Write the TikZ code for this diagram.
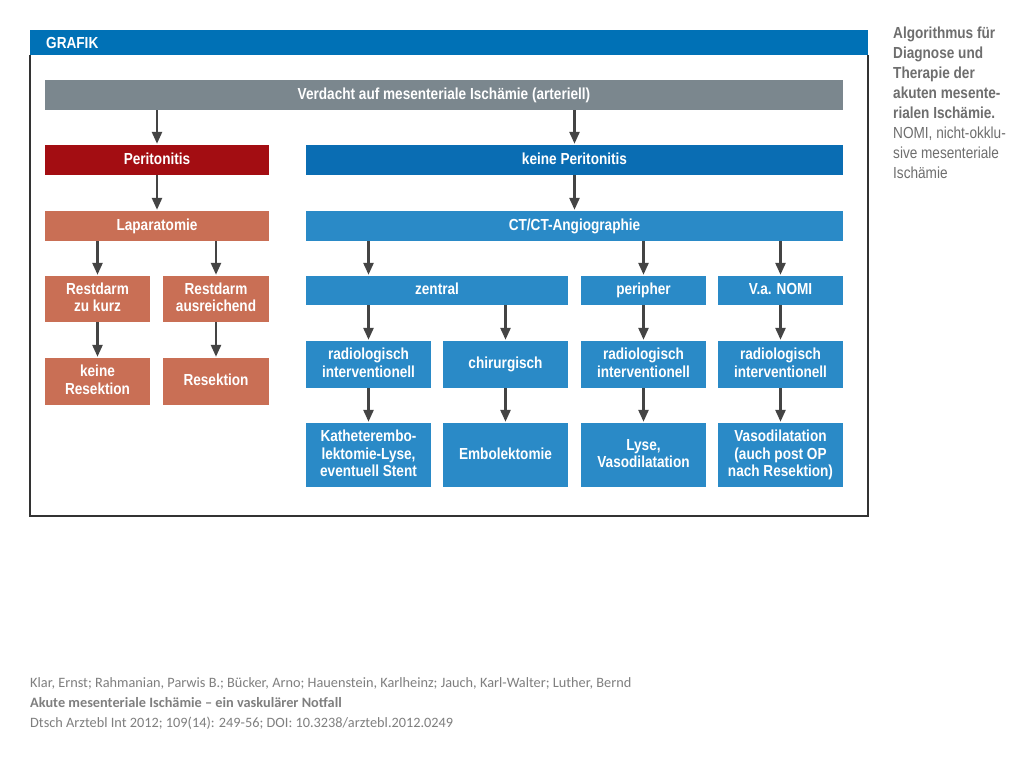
\documentclass[tikz,border=0pt]{standalone}
\usepackage{fontspec}
\setmainfont{Liberation Sans}
\newfontfamily\cond[FakeStretch=0.85]{Liberation Sans}
\newfontfamily\calib{Carlito}
\usetikzlibrary{arrows.meta,positioning}
\definecolor{hdrblue}{HTML}{0071B6}
\definecolor{kpblue}{HTML}{0A6DB3}
\definecolor{ltblue}{HTML}{2A8AC7}
\definecolor{pred}{HTML}{A30D12}
\definecolor{salmon}{HTML}{C96F55}
\definecolor{barg}{HTML}{7B878E}
\definecolor{arrg}{HTML}{444444}
\definecolor{capg}{HTML}{6E6E6E}
\definecolor{citeg}{HTML}{7F7F7F}
\tikzset{
  box/.style={rectangle, inner sep=0pt, text=white, align=center,
    font=\cond\bfseries\fontsize{16}{17.5}\selectfont},
  arr/.style={draw=arrg, line width=2.5pt, -{Triangle[width=10pt,length=12pt]}, fill=arrg, shorten >=1pt},
}
\newcommand{\bx}[7]{% name, x1, y1, x2, y2, color, text
  \node[box, fill=#6, minimum width={#4-#2}, minimum height={#5-#3}] (#1) at ({(#2+#4)/2},{(#3+#5)/2}) {\vphantom{Ap}#7\vphantom{Ap}};}
\begin{document}
\begin{tikzpicture}[x=1pt,y=-1pt]
\useasboundingbox (0,0) rectangle (1024,768);
\fill[white] (0,0) rectangle (1024,768);
% frame
\fill[hdrblue] (30,30) rectangle (868,55);
\draw[black!80, line width=1.5pt] (30,55) -- (30,516) -- (868,516) -- (868,55);
\node[anchor=west, text=white, inner sep=0pt, font=\cond\bfseries\fontsize{16}{18}\selectfont] (graf) at (46,43) {GRAFIK};
% boxes
\bx{top}{45}{80}{843}{110}{barg}{Verdacht auf mesenteriale Ischämie (arteriell)}
\bx{per}{45}{145}{269}{175}{pred}{Peritonitis}
\bx{kp}{306}{145}{843}{175}{kpblue}{keine Peritonitis}
\bx{lap}{45}{211}{269}{241}{salmon}{Laparatomie}
\bx{ct}{306}{211}{843}{241}{ltblue}{CT/CT-Angiographie}
\bx{rk}{45}{276}{150}{322}{salmon}{Restdarm\\zu kurz}
\bx{ra}{163}{276}{269}{322}{salmon}{Restdarm\\ausreichend}
\bx{kr}{45}{358}{150}{405}{salmon}{keine\\Resektion}
\bx{res}{163}{358}{269}{405}{salmon}{Resektion}
\bx{zen}{306}{276}{568}{305}{ltblue}{zentral}
\bx{peri}{581}{276}{706}{305}{ltblue}{peripher}
\bx{nomi}{718}{276}{843}{305}{ltblue}{V.a. NOMI}
\bx{r1}{306}{341}{431}{388}{ltblue}{radiologisch\\interventionell}
\bx{chi}{443}{341}{568}{388}{ltblue}{chirurgisch}
\bx{r2}{581}{341}{706}{388}{ltblue}{radiologisch\\interventionell}
\bx{r3}{718}{341}{843}{388}{ltblue}{radiologisch\\interventionell}
\bx{kat}{306}{423}{431}{487}{ltblue}{Katheterembo-\\lektomie-Lyse,\\eventuell Stent}
\bx{emb}{443}{423}{568}{487}{ltblue}{Embolektomie}
\bx{lys}{581}{423}{706}{487}{ltblue}{Lyse,\\Vasodilatation}
\bx{vas}{718}{423}{843}{487}{ltblue}{Vasodilatation\\(auch post OP\\nach Resektion)}
% arrows
\draw[arr] (top.south -| per.north) -- (per.north);
\draw[arr] (top.south -| kp.north) -- (kp.north);
\draw[arr] (per.south) -- (lap.north);
\draw[arr] (kp.south) -- (ct.north);
\draw[arr] (lap.south -| rk.north) -- (rk.north);
\draw[arr] (lap.south -| ra.north) -- (ra.north);
\draw[arr] (rk.south) -- (kr.north);
\draw[arr] (ra.south) -- (res.north);
\draw[arr] (ct.south -| r1.north) -- (r1.north |- zen.north);
\draw[arr] (ct.south -| peri.north) -- (peri.north);
\draw[arr] (ct.south -| nomi.north) -- (nomi.north);
\draw[arr] (zen.south -| r1.north) -- (r1.north);
\draw[arr] (zen.south -| chi.north) -- (chi.north);
\draw[arr] (peri.south) -- (r2.north);
\draw[arr] (nomi.south) -- (r3.north);
\draw[arr] (r1.south) -- (kat.north);
\draw[arr] (chi.south) -- (emb.north);
\draw[arr] (r2.south) -- (lys.north);
\draw[arr] (r3.south) -- (vas.north);
% caption
\node[anchor=north west, align=left, text=capg, inner sep=0pt,
  font=\cond\fontsize{16}{20}\selectfont] (cap) at (893,27)
  {\bfseries Algorithmus für\\\bfseries Diagnose und\\\bfseries Therapie der\\\bfseries akuten mesente-\\\bfseries rialen Ischämie.\\NOMI, nicht-okklu-\\sive mesenteriale\\Ischämie};
% citation
\node[anchor=north west, align=left, text=citeg, inner sep=0pt,
  font=\calib\fontsize{14.3}{20}\selectfont] (cite) at (30,677)
  {Klar, Ernst; Rahmanian, Parwis B.; Bücker, Arno; Hauenstein, Karlheinz; Jauch, Karl-Walter; Luther, Bernd\\
   \textbf{Akute mesenteriale Ischämie – ein vaskulärer Notfall}\\
   Dtsch Arztebl Int 2012; 109(14): 249-56; DOI: 10.3238/arztebl.2012.0249};
\end{tikzpicture}
\end{document}
